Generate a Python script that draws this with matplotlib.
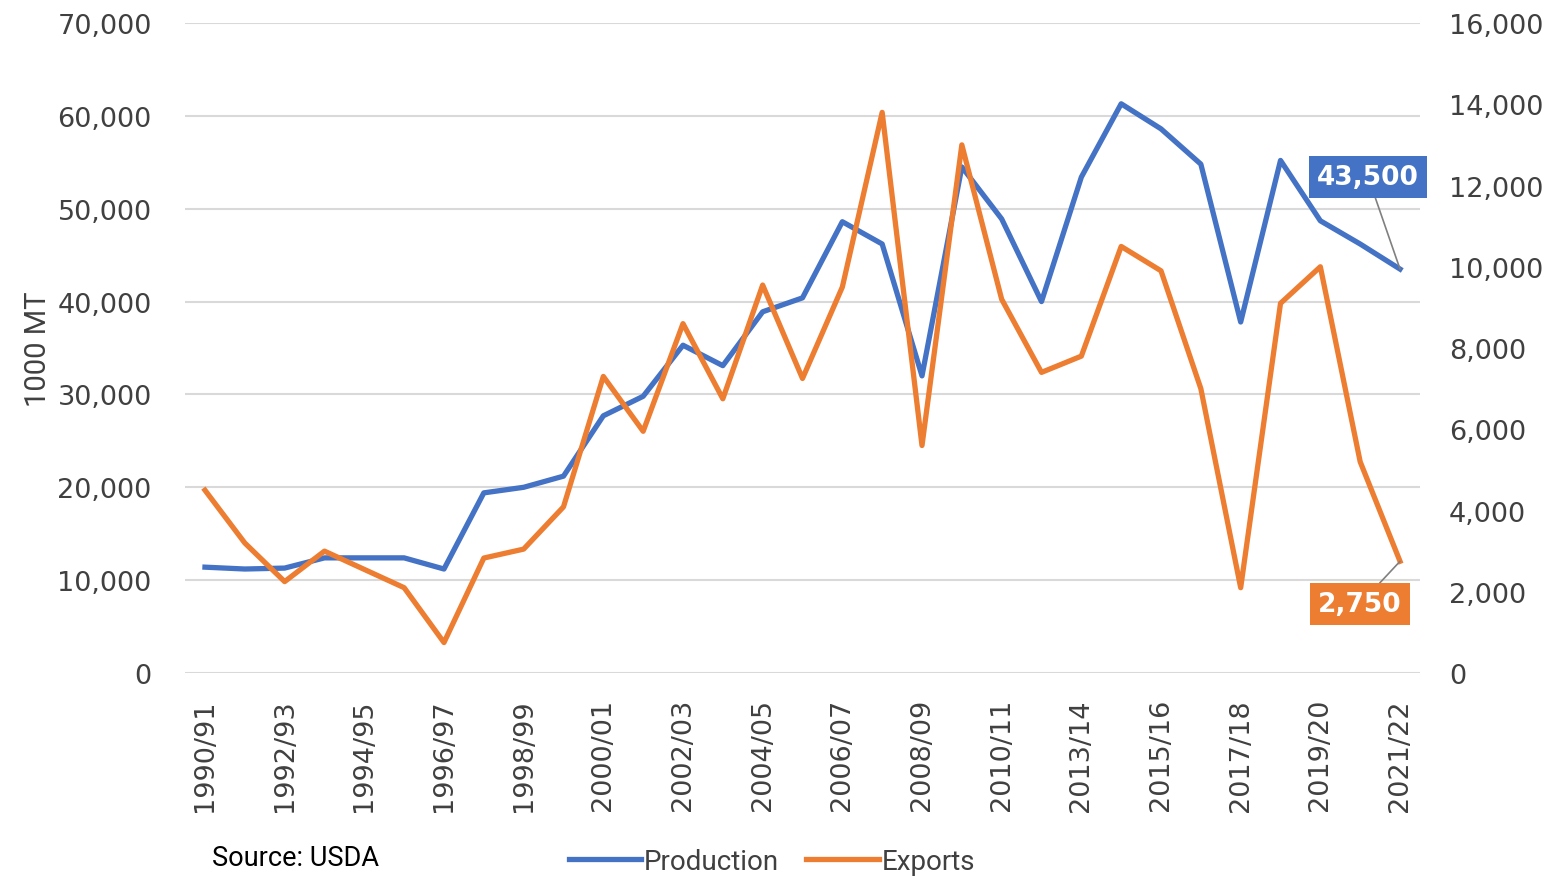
import matplotlib
matplotlib.use('Agg')
import matplotlib.pyplot as plt
from matplotlib.ticker import FuncFormatter

seasons = ['1990/91', '1991/92', '1992/93', '1993/94', '1994/95', '1995/96',
           '1996/97', '1997/98', '1998/99', '1999/00', '2000/01', '2001/02',
           '2002/03', '2003/04', '2004/05', '2005/06', '2006/07', '2007/08',
           '2008/09', '2009/10', '2010/11', '2011/12', '2013/14', '2014/15',
           '2015/16', '2016/17', '2017/18', '2018/19', '2019/20', '2020/21',
           '2021/22']
production = [11400, 11200, 11300, 12400, 12400, 12400, 11200, 19400, 20000,
              21200, 27700, 29800, 35300, 33100, 38900, 40400, 48600, 46200,
              32000, 54500, 48900, 40000, 53400, 61300, 58600, 54800, 37800,
              55200, 48700, 46200, 43500]
exports = [4500, 3200, 2250, 3000, 2550, 2100, 750, 2830, 3050, 4090, 7300,
           5950, 8600, 6750, 9550, 7250, 9500, 13800, 5600, 13000, 9200, 7400,
           7800, 10500, 9900, 7000, 2100, 9100, 10000, 5200, 2750]

blue = '#4472C4'
orange = '#ED7D31'
narrow = ['Liberation Sans Narrow', 'Roboto', 'DejaVu Sans']

fig = plt.figure(figsize=(15.59, 8.79), dpi=100)
ax = fig.add_axes([0.1187, 0.2332, 0.7921, 0.7395])
ax2 = ax.twinx()

x = list(range(len(seasons)))
lp, = ax.plot(x, production, color=blue, lw=3.8, label='Production', zorder=3)
le, = ax2.plot(x, exports, color=orange, lw=3.8, label='Exports', zorder=3)

ax.set_xlim(-0.5, len(seasons) - 0.5)
ax.set_ylim(0, 70000)
ax2.set_ylim(0, 16000)
ax.set_yticks(range(0, 70001, 10000))
ax2.set_yticks(range(0, 16001, 2000))
fmt = FuncFormatter(lambda v, p: f'{int(v):,}')
ax.yaxis.set_major_formatter(fmt)
ax2.yaxis.set_major_formatter(fmt)

ax.set_xticks(x[::2])
ax.set_xticklabels(seasons[::2], rotation=90)

ax.grid(axis='y', color='#d9d9d9', lw=1.5, zorder=0)
for a in (ax, ax2):
    for s in a.spines.values():
        s.set_visible(False)
ax.tick_params(axis='y', length=0, pad=24, labelsize=19.5, labelcolor='#404040')
ax2.tick_params(axis='y', length=0, pad=21, labelsize=19.5, labelcolor='#404040')
ax.tick_params(axis='x', length=0, pad=18, labelsize=19.5, labelcolor='#404040')

ax.set_ylabel('1000 MT', fontsize=21, family=narrow, color='#404040', labelpad=4)

# end-point labels
ax.annotate('43,500', xy=(x[-1], production[-1]), xytext=(x[-1] - 0.8, 53400),
            ha='center', va='center', fontsize=19, fontweight='bold', color='white',
            bbox=dict(boxstyle='square,pad=0.3', fc=blue, ec='none'),
            arrowprops=dict(arrowstyle='-', color='#808080', lw=1.2, shrinkA=0, shrinkB=0))
ax2.annotate('2,750', xy=(x[-1], exports[-1]), xytext=(x[-1] - 1.0, 1700),
             ha='center', va='center', fontsize=19, fontweight='bold', color='white',
             bbox=dict(boxstyle='square,pad=0.3', fc=orange, ec='none'),
             arrowprops=dict(arrowstyle='-', color='#808080', lw=1.2, shrinkA=0, shrinkB=0))

fig.legend(handles=[lp, le], loc='center', bbox_to_anchor=(0.495, 0.019), ncol=2,
           frameon=False, prop={'family': narrow, 'size': 20}, handlelength=2.6,
           handletextpad=0.1, columnspacing=1.0, labelcolor='#404040')
fig.text(0.136, 0.023, 'Source: USDA', fontsize=19.5, family=narrow, va='center')

fig.savefig('out.png', dpi=100, facecolor='white')
